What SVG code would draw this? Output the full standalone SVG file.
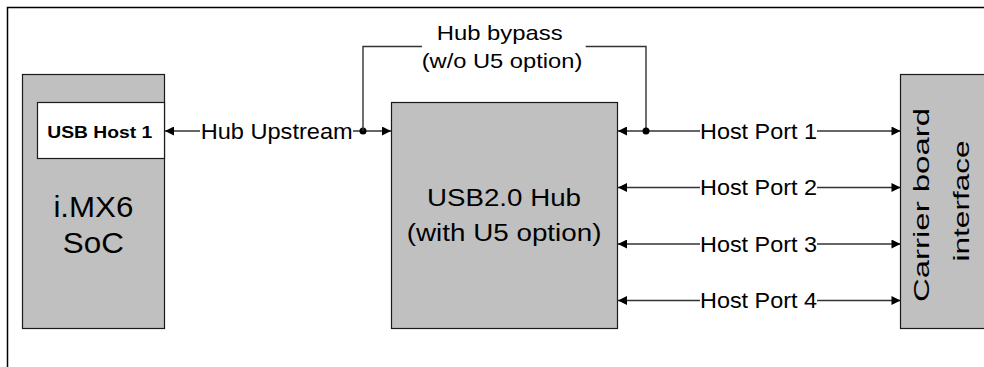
<svg xmlns="http://www.w3.org/2000/svg" width="984" height="367" viewBox="0 0 984 367">
<style>
.box{fill:#c0c0c0;stroke:#1a1a1a;stroke-width:1.2}
.wbox{fill:#ffffff;stroke:#1a1a1a;stroke-width:1.2}
.t{font-family:"Liberation Sans",Arial,sans-serif;fill:#000}
.ln{fill:none;stroke:#333;stroke-width:1.4}
</style>
<defs>
<marker id="ah" viewBox="0 0 10 10" refX="10" refY="5" markerWidth="10" markerHeight="9" markerUnits="userSpaceOnUse" orient="auto-start-reverse">
<path d="M0,0 L10,5 L0,10 Z" fill="#000"/>
</marker>
</defs>
<rect x="7.5" y="7.5" width="1000" height="400" fill="none" stroke="#000" stroke-width="1.5"/>
<g id="soc">
<rect class="box" x="22.5" y="74.5" width="142" height="254"/>
<text class="t" x="53.4" y="217" font-size="29" textLength="80" lengthAdjust="spacingAndGlyphs">i.MX6</text>
<text class="t" x="62.8" y="252.5" font-size="29" textLength="61" lengthAdjust="spacingAndGlyphs">SoC</text>
</g>
<g id="usbhost1">
<rect class="wbox" x="37.5" y="102.5" width="127" height="56"/>
<text class="t" x="47.3" y="137.5" font-size="17" font-weight="bold" textLength="105" lengthAdjust="spacingAndGlyphs">USB Host 1</text>
</g>
<g id="hub">
<rect class="box" x="391.5" y="102.5" width="226" height="226"/>
<text class="t" x="427" y="205.5" font-size="23" textLength="154" lengthAdjust="spacingAndGlyphs">USB2.0 Hub</text>
<text class="t" x="406.8" y="240.5" font-size="23" textLength="194.6" lengthAdjust="spacingAndGlyphs">(with U5 option)</text>
</g>
<g id="carrier">
<rect class="box" x="900.5" y="74.5" width="100" height="254"/>
<text class="t" transform="translate(929,205) rotate(-90)" x="0" y="0" font-size="22.5" text-anchor="middle" textLength="194" lengthAdjust="spacingAndGlyphs">Carrier board</text>
<text class="t" transform="translate(969,201) rotate(-90)" x="0" y="0" font-size="22.5" text-anchor="middle" textLength="121" lengthAdjust="spacingAndGlyphs">interface</text>
</g>
<g id="connectors">
<line class="ln" x1="165" y1="131" x2="200" y2="131" marker-start="url(#ah)"/>
<line class="ln" x1="353" y1="131" x2="391" y2="131" marker-end="url(#ah)"/>
<circle cx="363" cy="131" r="3.5" fill="#000"/>
<text class="t" x="200.7" y="138.5" font-size="22" textLength="152" lengthAdjust="spacingAndGlyphs">Hub Upstream</text>
<polyline class="ln" points="363,131 363,46.5 422,46.5"/>
<polyline class="ln" points="585.7,46.5 646,46.5 646,131"/>
<text class="t" x="436.7" y="39.5" font-size="21" textLength="126" lengthAdjust="spacingAndGlyphs">Hub bypass</text>
<text class="t" x="421.7" y="67.5" font-size="21" textLength="160.6" lengthAdjust="spacingAndGlyphs">(w/o U5 option)</text>
<line class="ln" x1="618" y1="131" x2="700" y2="131" marker-start="url(#ah)"/>
<line class="ln" x1="817" y1="131" x2="900.5" y2="131" marker-end="url(#ah)"/>
<circle cx="646" cy="131" r="3.5" fill="#000"/>
<text class="t" x="700" y="138.5" font-size="22" textLength="117" lengthAdjust="spacingAndGlyphs">Host Port 1</text>
<line class="ln" x1="618" y1="187.5" x2="700" y2="187.5" marker-start="url(#ah)"/>
<line class="ln" x1="817" y1="187.5" x2="900.5" y2="187.5" marker-end="url(#ah)"/>
<text class="t" x="700" y="195" font-size="22" textLength="117" lengthAdjust="spacingAndGlyphs">Host Port 2</text>
<line class="ln" x1="618" y1="244" x2="700" y2="244" marker-start="url(#ah)"/>
<line class="ln" x1="817" y1="244" x2="900.5" y2="244" marker-end="url(#ah)"/>
<text class="t" x="700" y="251.5" font-size="22" textLength="117" lengthAdjust="spacingAndGlyphs">Host Port 3</text>
<line class="ln" x1="618" y1="300.5" x2="700" y2="300.5" marker-start="url(#ah)"/>
<line class="ln" x1="817" y1="300.5" x2="900.5" y2="300.5" marker-end="url(#ah)"/>
<text class="t" x="700" y="308" font-size="22" textLength="117" lengthAdjust="spacingAndGlyphs">Host Port 4</text>
</g>
</svg>
